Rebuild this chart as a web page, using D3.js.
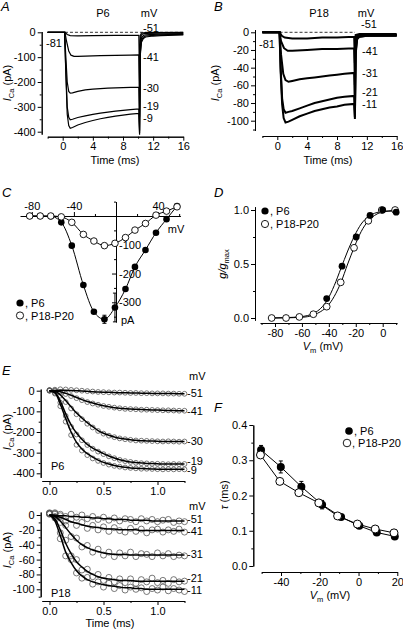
<!DOCTYPE html>
<html><head><meta charset="utf-8">
<script src="https://cdn.jsdelivr.net/npm/d3@7"></script>
<style>
body{margin:0;background:#fff}
svg{display:block;font-family:"Liberation Sans",Arial,sans-serif}
</style></head><body>
<svg id="c" width="403" height="630"></svg>
<script>
// ---------- DATA ----------
// Panel A (P6) current traces [time ms, pA]
const A_m9  = [[-2,0],[0.25,0],[0.4,-150],[0.6,-330],[0.8,-375],[1.0,-386],[1.3,-383],[2,-373],[3,-363],[4,-355],[5,-348],[6,-342],[7,-337],[8,-333],[9,-329],[10.1,-326],[10.2,-412],[10.3,-90],[10.45,-40],[10.7,-25],[11,-19],[12,-15],[13,-13],[14,-12],[16,-10]];
const A_m19 = [[-2,0],[0.25,0],[0.4,-140],[0.6,-300],[0.8,-342],[1.0,-352],[1.3,-350],[2,-343],[3,-336],[4,-330],[5,-325],[6,-321],[7,-317],[8,-314],[9,-311],[10.1,-308],[10.2,-405],[10.3,-80],[10.45,-32],[10.7,-20],[11,-15],[12,-12],[13,-10],[14,-9],[16,-8]];
const A_m30 = [[-2,0],[0.25,0],[0.4,-90],[0.6,-200],[0.8,-238],[1.0,-245],[1.3,-244],[2,-238],[3,-232],[4,-229],[5,-227],[6,-225],[7,-224],[8,-223],[9,-222],[10.1,-221],[10.2,-395],[10.3,-60],[10.45,-22],[10.7,-13],[11,-10],[12,-8],[14,-6],[16,-5]];
const A_m41 = [[-2,0],[0.3,0],[0.5,-35],[0.8,-75],[1.1,-92],[1.5,-97],[2,-97],[3,-96],[5,-94],[7,-93],[9,-92],[10.1,-91],[10.2,-340],[10.3,-30],[10.45,-10],[10.7,-6],[11,-4],[13,-3],[16,-2]];
const A_m51 = [[-2,0],[0.3,0],[0.6,-9],[1,-13],[2,-14],[4,-13],[7,-12],[10.1,-12],[10.2,-200],[10.3,-12],[10.45,-3],[11,-1],[16,0]];
const A_labels = ["-51","-41","-30","-19","-9"];
const A_labelY = [-8,-95,-220,-300,-340];
// Panel B (P18)
const B_m11 = [[-2,0],[0.3,0],[0.45,-45],[0.65,-82],[0.85,-97],[1.1,-102],[1.5,-101],[2,-99],[3,-95],[4,-92],[5,-89],[6,-87],[7,-85],[8,-84],[9,-82],[10.3,-81],[10.4,-98],[10.5,-25],[10.7,-8],[11,-5],[12,-4],[14,-4],[16,-4]];
const B_m21 = [[-2,0],[0.3,0],[0.45,-40],[0.65,-75],[0.85,-87],[1.1,-91],[1.5,-90],[2,-89],[3,-86],[4,-83],[5,-80],[6,-78],[7,-76],[8,-74],[9,-73],[10.3,-72],[10.4,-96],[10.5,-22],[10.7,-7],[11,-5],[12,-4],[16,-4]];
const B_m31 = [[-2,0],[0.3,0],[0.5,-25],[0.8,-47],[1.1,-54],[1.5,-56],[2,-55],[3,-53],[4,-52],[5,-51],[6,-50],[7,-49],[8,-48],[9,-47],[10.3,-46],[10.4,-88],[10.5,-15],[10.7,-5],[11,-4],[16,-3]];
const B_m41 = [[-2,0],[0.3,0],[0.5,-10],[0.9,-18],[1.4,-21],[2,-21],[4,-20],[6,-19],[8,-19],[10.3,-18],[10.4,-60],[10.5,-8],[10.7,-4],[11,-3],[16,-3]];
const B_m51 = [[-2,0],[0.3,0],[0.6,-4],[1,-6],[2,-7],[4,-7],[6,-6],[8,-6],[10.3,-5],[10.4,-35],[10.5,-3],[11,-2],[16,-2]];
const B_labels = ["-51","-41","-31","-21","-11"];
const B_labelY = [9,-21,-46,-67,-81];

// Panel C: I-V
const C_V   = [-82,-72,-62,-52,-42,-31,-21,-11,-1,9,18,28,38,48,58];
const C_P6  = [0,0,-1,-22,-103,-240,-333,-359,-318,-254,-177,-118,-58,-11,35];
const C_P6err = [0,0,0,0,0,0,0,14,50,0,0,0,0,0,0];
const C_P18 = [0,0,0,-3,-22,-64,-87,-103,-95,-75,-49,-26,3,17,32];

// Panel D: activation
const D_V6 = [-41.6,-30.2,-19.7,-9.4,0,10];
const D_g6 = [0.18,0.48,0.75,0.95,1.0,0.98];
const D_V18 = [-82.5,-71.8,-61.9,-51.5,-41.6,-31.2,-21.3,-10.7,-0.7,9.2];
const D_g18 = [0,0,0.01,0.035,0.105,0.33,0.65,0.9,1.0,1.0];
const D_fitV = [-82,-71,-61,-56,-51,-46,-41,-36,-31,-26,-21,-16,-11,-6,-1,4,10];
const D_fit6 = [0,0.004,0.012,0.022,0.045,0.09,0.17,0.3,0.46,0.62,0.76,0.87,0.935,0.97,0.985,0.99,0.99];
const D_fit18 = [0,0.002,0.006,0.012,0.03,0.06,0.11,0.2,0.33,0.5,0.66,0.8,0.895,0.95,0.98,0.99,1.0];

// Panel E: activation time course
const tE = [0,0.05,0.1,0.15,0.2,0.25,0.3,0.35,0.4,0.45,0.5,0.55,0.6,0.65,0.7,0.75,0.8,0.85,0.9,0.95,1.0,1.05,1.1,1.15,1.2,1.25];
const E6_fit = {
 "-9":  [0,-10,-65,-135,-200,-250,-282,-305,-322,-336,-347,-355,-362,-367,-371,-374,-376,-377,-378,-379,-380,-380,-380,-380,-380,-380],
 "-19": [0,-8,-50,-112,-165,-205,-235,-260,-278,-292,-305,-316,-326,-334,-340,-345,-348,-350,-352,-353,-354,-355,-355,-355,-355,-355],
 "-30": [0,-3,-20,-48,-78,-108,-132,-155,-174,-193,-206,-216,-224,-230,-234,-238,-240,-242,-243,-244,-245,-246,-246,-246,-246,-246],
 "-41": [0,-1,-5,-13,-22,-33,-43,-52,-60,-67,-73,-78,-82,-85,-87,-89,-90,-91,-92,-93,-94,-95,-96,-96,-97,-97],
 "-51": [0,1,2,2,1,0,-1,-3,-5,-6,-7,-8,-9,-10,-10,-11,-11,-12,-12,-13,-13,-14,-14,-14,-15,-15]
};
const E6_data = {
 "-9":  [0,-14,-75,-150,-215,-262,-290,-312,-328,-340,-350,-358,-364,-368,-372,-374,-376,-378,-378,-379,-380,-381,-380,-381,-380,-381],
 "-19": [0,-10,-58,-122,-175,-212,-240,-263,-281,-295,-307,-318,-327,-335,-341,-345,-349,-351,-352,-354,-354,-355,-356,-355,-356,-355],
 "-30": [2,-2,-24,-55,-86,-114,-138,-160,-178,-195,-208,-218,-225,-231,-235,-238,-241,-242,-243,-244,-245,-246,-245,-246,-247,-246],
 "-41": [3,1,-6,-16,-26,-36,-46,-55,-62,-68,-74,-78,-82,-85,-88,-89,-90,-92,-92,-93,-94,-95,-95,-96,-97,-97],
 "-51": [2,5,7,6,4,2,0,-2,-4,-6,-7,-8,-9,-9,-10,-11,-11,-12,-12,-13,-13,-13,-14,-14,-15,-15]
};
const E6_labels = ["-51","-41","-30","-19","-9"];
const E6_labelY = [-13,-97,-243,-342,-383];
const E18_fit = {
 "-11": [0,-8,-28,-50,-64,-75,-82,-87,-90,-92,-94,-95,-96,-97,-98,-98,-99,-99,-100,-100,-100,-100,-100,-100,-100,-100],
 "-21": [0,-5,-20,-38,-52,-63,-70,-76,-80,-83,-85,-86,-87,-88,-88,-88,-89,-89,-89,-89,-89,-89,-89,-89,-89,-89],
 "-31": [0,-2,-8,-17,-26,-34,-40,-44,-47,-49,-51,-52,-53,-53,-53,-54,-54,-54,-54,-54,-54,-54,-54,-54,-54,-54],
 "-41": [0,-1,-3,-6,-9,-11,-13,-15,-16,-17,-18,-19,-19,-20,-20,-20,-20,-21,-21,-21,-21,-21,-21,-21,-21,-21],
 "-51": [0,0,-1,-1,-2,-2,-3,-3,-4,-4,-5,-5,-6,-6,-6,-7,-7,-7,-7,-8,-8,-8,-8,-8,-8,-8]
};
const E18_data = {
 "-11": [2,-4,-32,-55,-60,-78,-85,-84,-93,-90,-97,-92,-99,-95,-101,-97,-100,-98,-103,-99,-101,-97,-102,-99,-101,-103],
 "-21": [1,-2,-24,-34,-55,-60,-74,-73,-83,-80,-88,-84,-90,-86,-91,-86,-92,-87,-90,-85,-91,-88,-92,-87,-90,-89],
 "-31": [2,1,-10,-14,-29,-31,-43,-41,-50,-46,-54,-50,-56,-51,-55,-50,-56,-52,-53,-56,-51,-55,-52,-56,-54,-55],
 "-41": [3,2,-1,-8,-6,-14,-10,-18,-14,-20,-16,-22,-17,-21,-23,-18,-22,-19,-24,-20,-19,-23,-20,-22,-19,-23],
 "-51": [2,3,1,-2,1,-3,0,-5,-2,-6,-3,-7,-4,-8,-5,-6,-9,-5,-8,-6,-9,-7,-6,-10,-8,-9]
};
const E18_labels = ["-51","-41","-31","-21","-11"];
const E18_labelY = [-6,-22,-53,-85,-101];

// Panel F: time constants
const F_V6 = [-50.3,-40.1,-29.5,-18.8,-9,0.4,9.4,18.7];
const F_tau6 = [0.329,0.281,0.225,0.174,0.139,0.114,0.095,0.084];
const F_err6 = [0.013,0.017,0.015,0.012,0.004,0.004,0.004,0.004];
const F_V18 = [-50.6,-40.6,-30.8,-20.5,-10.8,-0.6,8.6,18.3];
const F_tau18 = [0.315,0.240,0.208,0.179,0.142,0.119,0.105,0.094];

// Tick values
const tickA_x = [0,4,8,12,16], tickA_xm = [-2,2,6,10,14];
const tickA_y = [0,-100,-200,-300,-400], tickA_ym = [-50,-150,-250,-350];
const tickB_y = [0,-20,-40,-60,-80,-100], tickB_ym = [-10,-30,-50,-70,-90,-110];
const tickC_x = [-80,-40,0,40], tickC_xm = [-60,-20,20,60];
const tickC_y = [-100,-200,-300], tickC_ym = [50,-50,-150,-250,-350];
const tickD_x = [-80,-60,-40,-20,0], tickD_xm = [-90,-70,-50,-30,-10,10];
const tickD_y = [0,0.5,1.0], tickD_ym = [0.25,0.75];
const tickE_x = [0,0.5,1.0], tickE_xm = [0.25,0.75,1.25];
const tickE6_y = [0,-100,-200,-300,-400], tickE6_ym = [-50,-150,-250,-350];
const tickE18_y = [0,-20,-40,-60,-80,-100], tickE18_ym = [-10,-30,-50,-70,-90,-110];
const tickF_x = [-40,-20,0,20], tickF_xm = [-50,-30,-10,10];
const tickF_y = [0,0.1,0.2,0.3,0.4], tickF_ym = [0.05,0.15,0.25,0.35];

// ---------- DRAW ----------
const svg = d3.select("#c");
const FS = 11;
function ext(s,a,b){return s.copy().domain([a,b]).range([s(a),s(b)]);}
function axis(orient, base, lo, hi, majors, minors, fmt, pos, showLabels=true){
  const s = ext(base, lo, hi);
  const fn = {left:d3.axisLeft,bottom:d3.axisBottom,top:d3.axisTop,right:d3.axisRight}[orient];
  const tr = (orient==="left"||orient==="right") ? `translate(${pos},0)` : `translate(0,${pos})`;
  const g1 = svg.append("g").attr("transform",tr)
     .call(fn(s).tickValues(minors).tickFormat("").tickSize(2).tickSizeOuter(0));
  const g2 = svg.append("g").attr("transform",tr)
     .call(fn(s).tickValues(majors).tickFormat(showLabels?fmt:"").tickSize(4).tickSizeOuter(0).tickPadding(2));
  [g1,g2].forEach(g=>{
    g.attr("font-family",null).attr("font-size",null);
    g.selectAll("path,line").attr("stroke","#000").attr("stroke-width",1);
    g.selectAll("text").attr("fill","#000").style("font-size",FS+"px");
  });
  return g2;
}
function text(x,y,str,anchor="start",size=FS,extra){
  const t = svg.append("text").attr("x",x).attr("y",y).attr("text-anchor",anchor)
    .style("font-size",size+"px").attr("fill","#000").text(str);
  if(extra) extra(t);
  return t;
}
function letter(x,y,s){text(x,y,s,"start",13,t=>t.style("font-style","italic"));}
function ylabelICa(x,y){
  const t = svg.append("text").attr("transform",`translate(${x},${y}) rotate(-90)`)
    .attr("text-anchor","middle").style("font-size",FS+"px");
  t.append("tspan").style("font-style","italic").text("I");
  t.append("tspan").attr("dy",2.5).style("font-size","7.5px").text("Ca");
  t.append("tspan").attr("dy",-2.5).text(" (pA)");
}
function xlabelVm(x,y){
  const t = svg.append("text").attr("x",x).attr("y",y).attr("text-anchor","middle").style("font-size",FS+"px");
  t.append("tspan").style("font-style","italic").text("V");
  t.append("tspan").attr("dy",2.5).style("font-size","7.5px").text("m");
  t.append("tspan").attr("dy",-2.5).text(" (mV)");
}

// ===== Panel A =====
{
  const x = d3.scaleLinear().domain([0,16]).range([62.7,183.3]);
  const y = d3.scaleLinear().domain([0,-400]).range([32.3,131.7]);
  axis("bottom", x, -2, 16, tickA_x, tickA_xm, d=>d, 136.7);
  axis("left", y, 3, -410, tickA_y, tickA_ym, d=>d, 41.7);
  svg.append("line").attr("x1",x(0.3)).attr("x2",x(16)).attr("y1",y(0)).attr("y2",y(0))
    .attr("stroke","#000").attr("stroke-width",0.8).attr("stroke-dasharray","3,2");
  const line = d3.line().x(d=>x(d[0])).y(d=>y(d[1]));
  [A_m51,A_m41,A_m30,A_m19,A_m9].forEach(tr=>{
    svg.append("path").attr("d",line(tr)).attr("fill","none").attr("stroke","#000").attr("stroke-width",1.2);
  });
  letter(1,11,"A");
  text(103,17,"P6","middle");
  text(149,17,"mV","middle");
  text(46,47,"-81");
  A_labels.forEach((l,i)=>text(143, y(A_labelY[i])+ (i===0?-2:(i===3?3:5)), l));
  ylabelICa(11,83);
  text(115,164,"Time (ms)","middle");
}
// ===== Panel B =====
{
  const x = d3.scaleLinear().domain([0,16]).range([277.3,396.7]);
  const y = d3.scaleLinear().domain([0,-100]).range([32.3,120.7]);
  axis("bottom", x, -2, 16, tickA_x, tickA_xm, d=>d, 136);
  axis("left", y, 3, -111, tickB_y, tickB_ym, d=>d, 255);
  svg.append("line").attr("x1",x(0.3)).attr("x2",x(10.4)).attr("y1",y(0)).attr("y2",y(0))
    .attr("stroke","#000").attr("stroke-width",0.8).attr("stroke-dasharray","3,2");
  const line = d3.line().x(d=>x(d[0])).y(d=>y(d[1]));
  [B_m51,B_m41,B_m31,B_m21,B_m11].forEach(tr=>{
    svg.append("path").attr("d",line(tr)).attr("fill","none").attr("stroke","#000").attr("stroke-width",2);
  });
  letter(214,11,"B");
  text(319,17,"P18","middle");
  text(366,17,"mV","middle");
  text(259,48,"-81");
  B_labels.forEach((l,i)=>text(i===0?361:362, y(B_labelY[i])+4, l));
  ylabelICa(219,83);
  text(328,164,"Time (ms)","middle");
}
// ===== Panel C =====
{
  const x = d3.scaleLinear().domain([-80,40]).range([31.8,158.1]);
  const y = d3.scaleLinear().domain([0,-300]).range([216,302.3]);
  axis("top", x, -91, 61, tickC_x, tickC_xm, d=>d===0?"":d, y(0));
  axis("left", y, 50, -368, tickC_y, tickC_ym, "", x(0), false);
  tickC_y.forEach(v=>text(x(0)+3, y(v)+4, String(v)));
  text(x(0)+5, 324, "pA");
  text(176,233,"mV","middle");
  const pts6 = C_V.map((v,i)=>[v,C_P6[i],C_P6err[i]]);
  const pts18 = C_V.map((v,i)=>[v,C_P18[i]]);
  const line = d3.line().x(d=>x(d[0])).y(d=>y(d[1])).curve(d3.curveMonotoneX);
  svg.append("path").attr("d",line(pts6)).attr("fill","none").attr("stroke","#000").attr("stroke-width",1);
  svg.append("path").attr("d",line(pts18)).attr("fill","none").attr("stroke","#000").attr("stroke-width",1);
  pts6.filter(d=>d[2]>0).forEach(d=>{
    svg.append("line").attr("x1",x(d[0])).attr("x2",x(d[0])).attr("y1",y(d[1]-d[2])).attr("y2",y(d[1]+d[2])).attr("stroke","#000");
    [d[1]-d[2],d[1]+d[2]].forEach(v=>svg.append("line").attr("x1",x(d[0])-2).attr("x2",x(d[0])+2).attr("y1",y(v)).attr("y2",y(v)).attr("stroke","#000"));
  });
  svg.selectAll(null).data(pts6).enter().append("circle").attr("cx",d=>x(d[0])).attr("cy",d=>y(d[1])).attr("r",3.3).attr("fill","#000");
  svg.selectAll(null).data(pts18).enter().append("circle").attr("cx",d=>x(d[0])).attr("cy",d=>y(d[1])).attr("r",3.3).attr("fill","#fff").attr("stroke","#000").attr("stroke-width",0.9);
  letter(2,197,"C");
  svg.append("circle").attr("cx",20).attr("cy",303).attr("r",3.6).attr("fill","#000");
  text(25,307,", P6");
  svg.append("circle").attr("cx",20).attr("cy",315.5).attr("r",3.6).attr("fill","#fff").attr("stroke","#000").attr("stroke-width",0.9);
  text(25,319.5,", P18-P20");
}
// ===== Panel D =====
{
  const x = d3.scaleLinear().domain([-80,0]).range([275,382.7]);
  const y = d3.scaleLinear().domain([0,1]).range([318,210]);
  axis("bottom", x, -91, 10.5, tickD_x, tickD_xm, d=>d, 323);
  axis("left", y, -0.02, 1.03, tickD_y, tickD_ym, d3.format(".1f"), 255);
  const line = d3.line().x(d=>x(d[0])).y(d=>y(d[1])).curve(d3.curveMonotoneX);
  svg.append("path").attr("d",line(D_fitV.map((v,i)=>[v,D_fit6[i]]))).attr("fill","none").attr("stroke","#000");
  svg.append("path").attr("d",line(D_fitV.map((v,i)=>[v,D_fit18[i]]))).attr("fill","none").attr("stroke","#000");
  svg.selectAll(null).data(D_V18.map((v,i)=>[v,D_g18[i]])).enter().append("circle")
    .attr("cx",d=>x(d[0])).attr("cy",d=>y(d[1])).attr("r",3.4).attr("fill","#fff").attr("stroke","#000").attr("stroke-width",0.9);
  svg.selectAll(null).data(D_V6.map((v,i)=>[v,D_g6[i]])).enter().append("circle")
    .attr("cx",d=>x(d[0])).attr("cy",d=>y(d[1])).attr("r",3.4).attr("fill","#000");
  letter(214,197,"D");
  svg.append("circle").attr("cx",265).attr("cy",211).attr("r",3.6).attr("fill","#000");
  text(270,215,", P6");
  svg.append("circle").attr("cx",265).attr("cy",224).attr("r",3.6).attr("fill","#fff").attr("stroke","#000").attr("stroke-width",0.9);
  text(270,228,", P18-P20");
  const t = svg.append("text").attr("transform","translate(226,264) rotate(-90)").attr("text-anchor","middle").style("font-size",FS+"px");
  t.append("tspan").style("font-style","italic").text("g/g");
  t.append("tspan").attr("dy",2.5).style("font-size","7.5px").text("max");
  xlabelVm(323,350);
}
// ===== Panel E =====
function panelE(fit, data, labels, labelY, y, ticks, ticksm, lo, hi, xAxisY, r, tag, tagY){
  const x = d3.scaleLinear().domain([0,1]).range([49.5,157.5]);
  axis("bottom", x, -0.07, 1.25, tickE_x, tickE_xm, d3.format(".1f"), xAxisY);
  axis("left", y, lo, hi, ticks, ticksm, d=>d, 40.7);
  const line = d3.line().x(d=>x(d[0])).y(d=>y(d[1])).curve(d3.curveMonotoneX);
  labels.forEach(k=>{
    const pts = tE.map((t,i)=>[t,data[k][i]]);
    svg.selectAll(null).data(pts).enter().append("circle").attr("cx",d=>x(d[0])).attr("cy",d=>y(d[1]))
      .attr("r",r).attr("fill","none").attr("stroke","#555").attr("stroke-width",0.8);
  });
  labels.forEach(k=>{
    svg.append("path").attr("d",line(tE.map((t,i)=>[t,fit[k][i]]))).attr("fill","none").attr("stroke","#000").attr("stroke-width",1.5);
  });
  labels.forEach((l,i)=>text(187, y(labelY[i])+4, l));
  text(51,tagY,tag);
}
{
  const y6 = d3.scaleLinear().domain([0,-400]).range([390.7,473.3]);
  panelE(E6_fit,E6_data,E6_labels,E6_labelY,y6,tickE6_y,tickE6_ym,8,-420,481,2.4,"P6",470);
  const y18 = d3.scaleLinear().domain([0,-100]).range([515,589.3]);
  panelE(E18_fit,E18_data,E18_labels,E18_labelY,y18,tickE18_y,tickE18_ym,4,-110,601,3,"P18",597);
  letter(2,375,"E");
  text(189,380,"mV");
  text(189,510,"mV");
  ylabelICa(11,432);
  ylabelICa(11,550);
  text(110,627,"Time (ms)","middle");
}
// ===== Panel F =====
{
  const x = d3.scaleLinear().domain([-40,20]).range([281,397.3]);
  const y = d3.scaleLinear().domain([0,0.4]).range([566,425]);
  axis("bottom", x, -50, 20, tickF_x, tickF_xm, d=>d, 572);
  axis("left", y, 0, 0.4, tickF_y, tickF_ym, d3.format(".1f"), 253.3);
  const line = d3.line().x(d=>x(d[0])).y(d=>y(d[1]));
  const p6 = F_V6.map((v,i)=>[v,F_tau6[i],F_err6[i]]);
  const p18 = F_V18.map((v,i)=>[v,F_tau18[i]]);
  svg.append("path").attr("d",line(p6)).attr("fill","none").attr("stroke","#000");
  svg.append("path").attr("d",line(p18)).attr("fill","none").attr("stroke","#000");
  p6.forEach(d=>{
    svg.append("line").attr("x1",x(d[0])).attr("x2",x(d[0])).attr("y1",y(d[1]-d[2])).attr("y2",y(d[1]+d[2])).attr("stroke","#000");
    [d[1]-d[2],d[1]+d[2]].forEach(v=>svg.append("line").attr("x1",x(d[0])-2).attr("x2",x(d[0])+2).attr("y1",y(v)).attr("y2",y(v)).attr("stroke","#000"));
  });
  svg.selectAll(null).data(p6).enter().append("circle").attr("cx",d=>x(d[0])).attr("cy",d=>y(d[1])).attr("r",4).attr("fill","#000");
  svg.selectAll(null).data(p18).enter().append("circle").attr("cx",d=>x(d[0])).attr("cy",d=>y(d[1])).attr("r",4).attr("fill","#fff").attr("stroke","#000").attr("stroke-width",1);
  letter(214,412,"F");
  svg.append("circle").attr("cx",349).attr("cy",431).attr("r",3.8).attr("fill","#000");
  text(354,435,", P6");
  svg.append("circle").attr("cx",347).attr("cy",443).attr("r",3.8).attr("fill","#fff").attr("stroke","#000").attr("stroke-width",0.9);
  text(352,447,", P18-P20");
  const t = svg.append("text").attr("transform","translate(228,495) rotate(-90)").attr("text-anchor","middle").style("font-size",FS+"px");
  t.append("tspan").style("font-style","italic").text("τ");
  t.append("tspan").text(" (ms)");
  xlabelVm(330,599);
}
</script>
</body></html>
